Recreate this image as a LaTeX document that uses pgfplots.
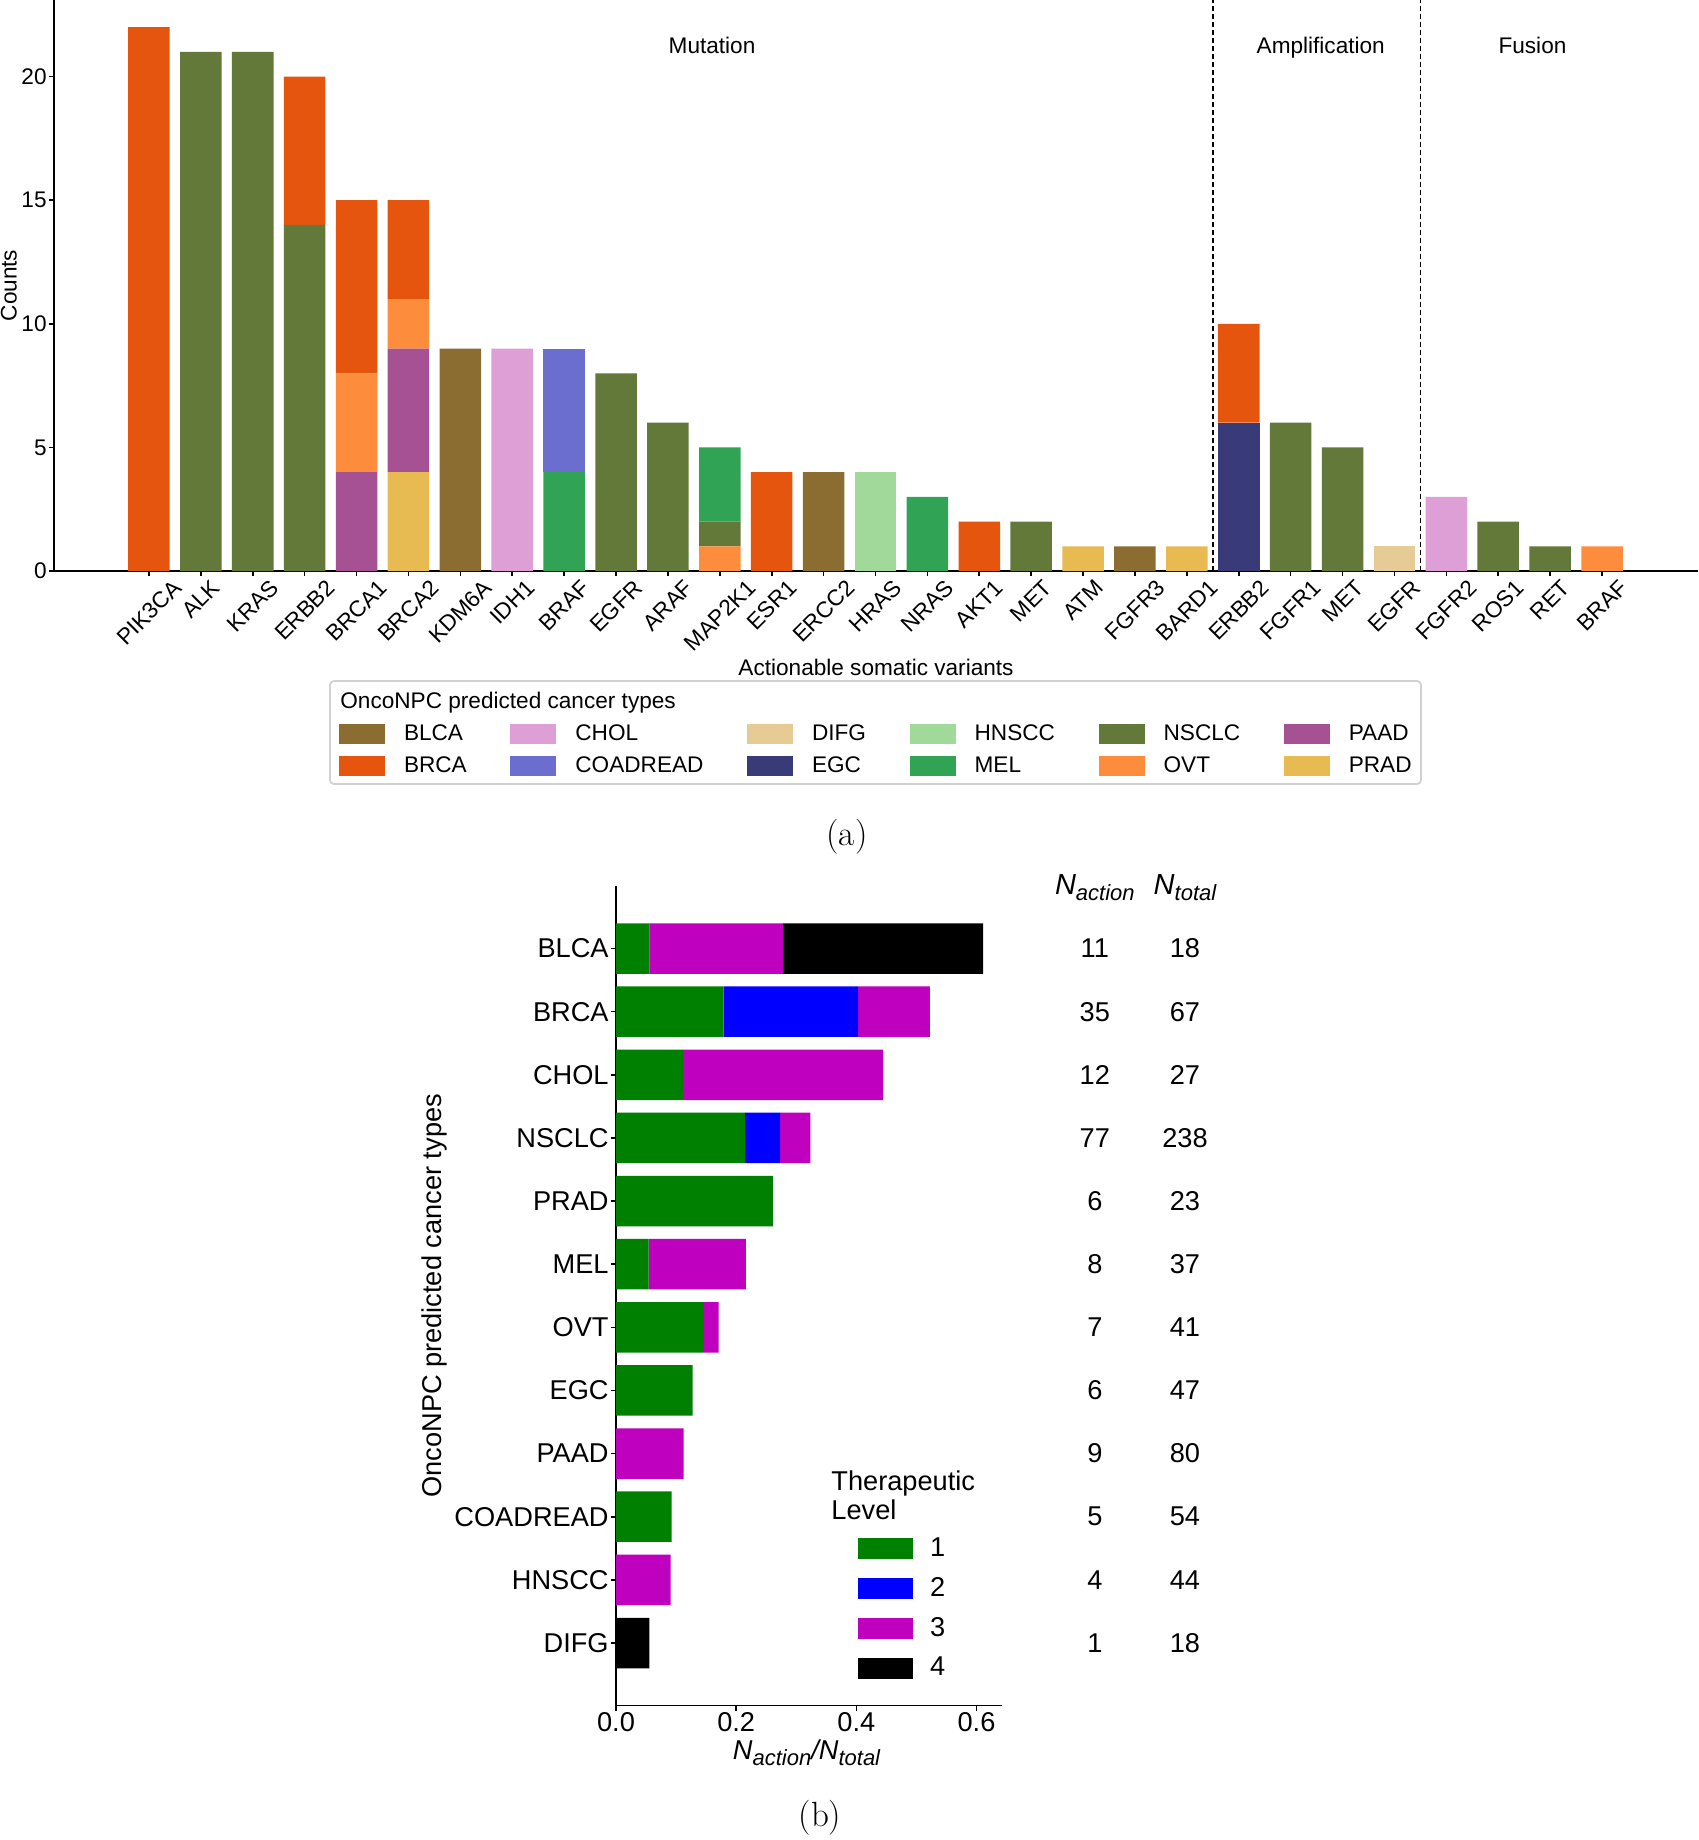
\documentclass[border=0pt]{standalone}
\usepackage{fontspec}
\setmainfont{Liberation Sans}
\newfontfamily\lmr{Latin Modern Roman}
\usepackage{graphicx}
\usepackage{pgfplots}
\pgfplotsset{compat=1.18}
\usepackage{pgfplotstable}

\definecolor{cBLCA}{HTML}{8C6D31}
\definecolor{cBRCA}{HTML}{E6550D}
\definecolor{cCHOL}{HTML}{DE9ED6}
\definecolor{cCOAD}{HTML}{6B6ECF}
\definecolor{cDIFG}{HTML}{E7CB94}
\definecolor{cEGC}{HTML}{393B79}
\definecolor{cHNSCC}{HTML}{A1D99B}
\definecolor{cMEL}{HTML}{31A354}
\definecolor{cNSCLC}{HTML}{637939}
\definecolor{cOVT}{HTML}{FD8D3C}
\definecolor{cPAAD}{HTML}{A55194}
\definecolor{cPRAD}{HTML}{E7BA52}
\definecolor{lv1}{HTML}{008000}
\definecolor{lv2}{HTML}{0000FF}
\definecolor{lv3}{HTML}{BF00BF}
\definecolor{lv4}{HTML}{000000}

\newcommand\rl[1]{\rotatebox{45}{#1}}
\newcommand\fa{\fontsize{11.3}{13.5}\selectfont}
\newcommand\fb{\fontsize{13.6}{15.5}\selectfont}
\newcommand\sub[1]{\raisebox{-0.4ex}{\fontsize{11}{12}\selectfont #1}}

% panel (a): counts per variant, stacked by predicted cancer type (bottom to top)
\pgfplotstableread{
x PRAD PAAD OVT EGC NSCLC MEL COAD BRCA BLCA CHOL DIFG HNSCC
0 0 0 0 0 0 0 0 22 0 0 0 0
1 0 0 0 0 21 0 0 0 0 0 0 0
2 0 0 0 0 21 0 0 0 0 0 0 0
3 0 0 0 0 14 0 0 6 0 0 0 0
4 0 4 4 0 0 0 0 7 0 0 0 0
5 4 5 2 0 0 0 0 4 0 0 0 0
6 0 0 0 0 0 0 0 0 9 0 0 0
7 0 0 0 0 0 0 0 0 0 9 0 0
8 0 0 0 0 0 4 5 0 0 0 0 0
9 0 0 0 0 8 0 0 0 0 0 0 0
10 0 0 0 0 6 0 0 0 0 0 0 0
11 0 0 1 0 1 3 0 0 0 0 0 0
12 0 0 0 0 0 0 0 4 0 0 0 0
13 0 0 0 0 0 0 0 0 4 0 0 0
14 0 0 0 0 0 0 0 0 0 0 0 4
15 0 0 0 0 0 3 0 0 0 0 0 0
16 0 0 0 0 0 0 0 2 0 0 0 0
17 0 0 0 0 2 0 0 0 0 0 0 0
18 1 0 0 0 0 0 0 0 0 0 0 0
19 0 0 0 0 0 0 0 0 1 0 0 0
20 1 0 0 0 0 0 0 0 0 0 0 0
21 0 0 0 6 0 0 0 4 0 0 0 0
22 0 0 0 0 6 0 0 0 0 0 0 0
23 0 0 0 0 5 0 0 0 0 0 0 0
24 0 0 0 0 0 0 0 0 0 0 1 0
25 0 0 0 0 0 0 0 0 0 3 0 0
26 0 0 0 0 2 0 0 0 0 0 0 0
27 0 0 0 0 1 0 0 0 0 0 0 0
28 0 0 1 0 0 0 0 0 0 0 0 0
}\tabA

% panel (b): fraction by therapeutic level; y=11 is BLCA (top), y=0 is DIFG
\pgfplotstableread{
y L1 L2 L3 L4
11 0.0556 0 0.2222 0.3333
10 0.1791 0.2239 0.1194 0
9 0.1111 0 0.3333 0
8 0.2143 0.0588 0.0504 0
7 0.2609 0 0 0
6 0.0541 0 0.1622 0
5 0.1463 0 0.0244 0
4 0.1277 0 0 0
3 0 0 0.1125 0
2 0.0926 0 0 0
1 0 0 0.0909 0
0 0 0 0 0.0556
}\tabB

\begin{document}
\begin{tikzpicture}

% ---------- panel (a) ----------
\begin{axis}[
  at={(27pt,-285.5pt)}, anchor=south west,
  scale only axis, width=822pt, height=285.5pt,
  xmin=-1.83, xmax=29.85, ymin=0, ymax=23.1,
  axis lines=left, axis line style={-, line width=0.9pt},
  ybar stacked, bar width=0.8,
  xtick={0,...,28},
  xticklabels={\rl{PIK3CA},\rl{ALK},\rl{KRAS},\rl{ERBB2},\rl{BRCA1},\rl{BRCA2},\rl{KDM6A},\rl{IDH1},\rl{BRAF},\rl{EGFR},\rl{ARAF},\rl{MAP2K1},\rl{ESR1},\rl{ERCC2},\rl{HRAS},\rl{NRAS},\rl{AKT1},\rl{MET},\rl{ATM},\rl{FGFR3},\rl{BARD1},\rl{ERBB2},\rl{FGFR1},\rl{MET},\rl{EGFR},\rl{FGFR2},\rl{ROS1},\rl{RET},\rl{BRAF}},
  ytick={0,5,10,15,20},
  tick align=outside, major tick length=2.5pt,
  tick style={black, line width=0.8pt},
  /pgf/number format/assume math mode=true,
  tick label style={font=\fa},
  x tick label style={anchor=north, inner sep=1pt},
  y tick label style={inner sep=1pt},
  label style={font=\fa},
  ylabel={Counts},
  ylabel style={at={(axis description cs:-0.0274,0.5)}, anchor=center},
  xlabel={Actionable somatic variants},
  xlabel style={at={(axis description cs:0.5,-0.168)}, anchor=center},
  clip=false,
]
\addplot[fill=cPRAD, draw=none] table[x=x, y=PRAD]{\tabA};
\addplot[fill=cPAAD, draw=none] table[x=x, y=PAAD]{\tabA};
\addplot[fill=cOVT, draw=none] table[x=x, y=OVT]{\tabA};
\addplot[fill=cEGC, draw=none] table[x=x, y=EGC]{\tabA};
\addplot[fill=cNSCLC, draw=none] table[x=x, y=NSCLC]{\tabA};
\addplot[fill=cMEL, draw=none] table[x=x, y=MEL]{\tabA};
\addplot[fill=cCOAD, draw=none] table[x=x, y=COAD]{\tabA};
\addplot[fill=cBRCA, draw=none] table[x=x, y=BRCA]{\tabA};
\addplot[fill=cBLCA, draw=none] table[x=x, y=BLCA]{\tabA};
\addplot[fill=cCHOL, draw=none] table[x=x, y=CHOL]{\tabA};
\addplot[fill=cDIFG, draw=none] table[x=x, y=DIFG]{\tabA};
\addplot[fill=cHNSCC, draw=none] table[x=x, y=HNSCC]{\tabA};
\draw[black, line width=0.8pt, dash pattern=on 2.5pt off 1.5pt] (axis cs:20.5,0) -- (axis cs:20.5,23.1);
\draw[black, line width=0.8pt, dash pattern=on 2.5pt off 1.5pt] (axis cs:24.5,0) -- (axis cs:24.5,23.1);
\node[font=\fa, anchor=base] at (axis cs:10.85,20.93) {Mutation};
\node[font=\fa, anchor=base] at (axis cs:22.58,20.93) {Amplification};
\node[font=\fa, anchor=base] at (axis cs:26.66,20.93) {Fusion};
\end{axis}

% ---------- legend of panel (a), captions ----------
\begin{axis}[
  at={(0pt,-920pt)}, anchor=south west,
  scale only axis, width=849pt, height=920pt,
  xmin=0, xmax=1698, ymin=-1840, ymax=0,
  hide axis, clip=false,
  legend columns=6, legend cell align=left,
  legend image code/.code={\fill[#1, draw=none] (0pt,-5pt) rectangle (23pt,5pt);},
  legend style={at={(0.19965,0.60640)}, anchor=north west,
    draw=none, fill=none, inner sep=0pt, outer sep=0pt,
    font=\fa, row sep=6pt,
    nodes={inner sep=0pt},
    /tikz/every odd column/.append style={column sep=9.5pt},
    /tikz/every even column/.append style={column sep=21.8pt}},
]
\addlegendimage{fill=cBLCA, draw=none}\addlegendentry{BLCA}
\addlegendimage{fill=cCHOL, draw=none}\addlegendentry{CHOL}
\addlegendimage{fill=cDIFG, draw=none}\addlegendentry{DIFG}
\addlegendimage{fill=cHNSCC, draw=none}\addlegendentry{HNSCC}
\addlegendimage{fill=cNSCLC, draw=none}\addlegendentry{NSCLC}
\addlegendimage{fill=cPAAD, draw=none}\addlegendentry{PAAD}
\addlegendimage{fill=cBRCA, draw=none}\addlegendentry{BRCA}
\addlegendimage{fill=cCOAD, draw=none}\addlegendentry{COADREAD}
\addlegendimage{fill=cEGC, draw=none}\addlegendentry{EGC}
\addlegendimage{fill=cMEL, draw=none}\addlegendentry{MEL}
\addlegendimage{fill=cOVT, draw=none}\addlegendentry{OVT}
\addlegendimage{fill=cPRAD, draw=none}\addlegendentry{PRAD}
\draw[black!18, line width=0.9pt, rounded corners=2pt] (axis cs:330,-681) rectangle (axis cs:1421,-784);
\node[anchor=west, font=\fa, inner sep=0pt] at (axis cs:340,-703) {OncoNPC predicted cancer types};
\node[font=\lmr\fontsize{17.5}{20}\selectfont] at (axis cs:847,-837) {(a)};
\node[font=\lmr\fontsize{17.5}{20}\selectfont] at (axis cs:820,-1818) {(b)};
\node[anchor=west, align=left, font=\fontsize{13.6}{14.5}\selectfont, inner sep=0pt] at (axis cs:831,-1495.5) {Therapeutic\\Level};
\end{axis}

% ---------- panel (b) ----------
\begin{axis}[
  at={(308pt,-852.75pt)}, anchor=south west,
  scale only axis, width=192.85pt, height=409.75pt,
  xmin=0, xmax=0.642, ymin=-0.99, ymax=11.99,
  axis lines=left, axis line style={-, line width=0.9pt},
  xbar stacked, bar width=0.8,
  ytick={0,...,11},
  yticklabels={DIFG,HNSCC,COADREAD,PAAD,EGC,OVT,MEL,PRAD,NSCLC,CHOL,BRCA,BLCA},
  xtick={0,0.2,0.4,0.6},
  xticklabel style={/pgf/number format/fixed, /pgf/number format/fixed zerofill, /pgf/number format/precision=1},
  tick align=outside, major tick length=2.5pt,
  tick style={black, line width=0.8pt},
  /pgf/number format/assume math mode=true,
  tick label style={font=\fb},
  x tick label style={inner sep=1pt},
  y tick label style={inner sep=1pt},
  label style={font=\fb},
  xlabel={\textit{N\sub{action}/N\sub{total}}},
  xlabel style={at={(axis description cs:0.494,-0.0574)}, anchor=center},
  ylabel={OncoNPC predicted cancer types},
  ylabel style={at={(axis description cs:-0.4705,0.5)}, anchor=center},
  clip=false,
]
\addplot[fill=lv1, draw=none] table[x=L1, y=y]{\tabB};
\addplot[fill=lv2, draw=none] table[x=L2, y=y]{\tabB};
\addplot[fill=lv3, draw=none] table[x=L3, y=y]{\tabB};
\addplot[fill=lv4, draw=none] table[x=L4, y=y]{\tabB};
\node[font=\fontsize{14.5}{16}\selectfont, anchor=base] at (axis cs:0.797,11.855) {\textit{N\sub{action}}};
\node[font=\fontsize{14.5}{16}\selectfont, anchor=base] at (axis cs:0.947,11.855) {\textit{N\sub{total}}};
\node[font=\fb] at (axis cs:0.797,11) {11};  \node[font=\fb] at (axis cs:0.947,11) {18};
\node[font=\fb] at (axis cs:0.797,10) {35};  \node[font=\fb] at (axis cs:0.947,10) {67};
\node[font=\fb] at (axis cs:0.797,9) {12};   \node[font=\fb] at (axis cs:0.947,9) {27};
\node[font=\fb] at (axis cs:0.797,8) {77};   \node[font=\fb] at (axis cs:0.947,8) {238};
\node[font=\fb] at (axis cs:0.797,7) {6};    \node[font=\fb] at (axis cs:0.947,7) {23};
\node[font=\fb] at (axis cs:0.797,6) {8};    \node[font=\fb] at (axis cs:0.947,6) {37};
\node[font=\fb] at (axis cs:0.797,5) {7};    \node[font=\fb] at (axis cs:0.947,5) {41};
\node[font=\fb] at (axis cs:0.797,4) {6};    \node[font=\fb] at (axis cs:0.947,4) {47};
\node[font=\fb] at (axis cs:0.797,3) {9};    \node[font=\fb] at (axis cs:0.947,3) {80};
\node[font=\fb] at (axis cs:0.797,2) {5};    \node[font=\fb] at (axis cs:0.947,2) {54};
\node[font=\fb] at (axis cs:0.797,1) {4};    \node[font=\fb] at (axis cs:0.947,1) {44};
\node[font=\fb] at (axis cs:0.797,0) {1};    \node[font=\fb] at (axis cs:0.947,0) {18};
\end{axis}

% ---------- legend of panel (b) ----------
\begin{axis}[
  at={(0pt,-920pt)}, anchor=south west,
  scale only axis, width=849pt, height=920pt,
  xmin=0, xmax=1698, ymin=-1840, ymax=0,
  hide axis, clip=false,
  legend cell align=left,
  legend image code/.code={\fill[#1, draw=none] (0pt,-5.25pt) rectangle (27.5pt,5.25pt);},
  legend style={at={(0.50530,0.16440)}, anchor=north west,
    draw=none, fill=none, inner sep=0pt, outer sep=0pt,
    font=\fb, row sep=9pt,
    nodes={inner sep=0pt},
    /tikz/every odd column/.append style={column sep=8.5pt}},
]
\addlegendimage{fill=lv1, draw=none}\addlegendentry{1}
\addlegendimage{fill=lv2, draw=none}\addlegendentry{2}
\addlegendimage{fill=lv3, draw=none}\addlegendentry{3}
\addlegendimage{fill=lv4, draw=none}\addlegendentry{4}
\end{axis}

\pgfresetboundingbox
\useasboundingbox (0pt,0pt) rectangle (849pt,-920pt);
\end{tikzpicture}
\end{document}
